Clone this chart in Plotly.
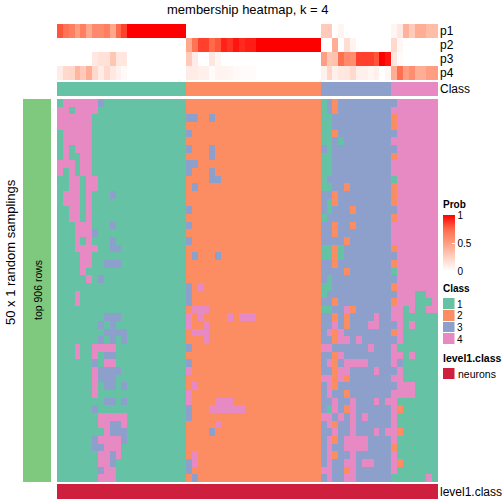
import plotly.graph_objects as go

W = H = 504
TITLE = "membership heatmap, k = 4"
TRACK_NAMES = ["p1", "p2", "p3", "p4"]
CLASS_NAMES = ["1", "2", "3", "4"]
CLASS_COLORS = ["#66C2A5", "#FC8D62", "#8DA0CB", "#E78AC3"]
SIDE_COLOR = "#7FC97F"
NEURON_COLOR = "#CE1F3E"

p1 = [.8,.7,.65,.5,.65,.45,.6,.6,.65,.45,.75,.85,1,1,1,1,1,1,1,1,1,1,
      0,0,0,0,0,0,0,0,0,0,0,0,0,0,0,0,0,0,0,0,0,0,0,
      .28,.28,0,.06,0,0,0,0,0,0,0,0,
      .05,.12,.4,.28,.42,.42,.35,.35]
p2 = [0,0,0,0,0,0,0,0,0,0,0,0,0,0,0,0,0,0,0,0,0,0,
      .45,.7,.85,.85,.75,.8,.92,.88,.95,.9,.93,.93,1,1,1,1,1,1,1,1,1,1,1,
      0,0,.42,0,.18,.06,0,0,0,0,0,0,
      .2,.04,0,0,0,0,0,0]
p3 = [0,0,0,0,0,0,.12,.16,.16,.3,.13,.13,0,0,0,0,0,0,0,0,0,0,
      .28,.1,0,0,.13,.05,0,0,0,0,0,0,0,0,0,0,0,0,0,0,0,0,0,
      .5,.3,.32,.72,.6,.58,.85,.85,.85,.8,1,.95,
      .13,.02,0,0,0,0,0,0]
p4 = [.1,.2,.22,.38,.28,.42,.2,.1,.2,.12,.07,.03,0,0,0,0,0,0,0,0,0,0,
      .1,.1,.08,.08,.02,.06,.06,.05,.03,.02,.02,.02,0,0,0,0,0,0,0,0,0,0,0,
      .07,.22,.08,.12,.13,.2,.08,.08,.05,.08,0,.05,
      .42,.72,.5,.58,.42,.42,.5,.5]
class_bar = "1111111111111111111111" + "22222222222222222222222" + "333333333333" + "44444444"

block1 = ["1444444311111111111111","4414444111111111111111","4444441111111111111111","4444441111111111111111",
"1444441111111111111111","1444441111111111111111","1414441111111111111111","1411441111111111111111",
"4441441111111111111111","4141441111111111111111","1144144111111111111111","1144144111111111111111",
"1444141113111111111111","1444141111111111111111","1144141111111111111111","1144141111111111111111",
"1114441113111111111111","1114443111111111111111","1114141113111111111111","1114444113311111111111",
"1111441111111111111111","1111441133311111111111","1111411111111111111111","1111141311111111111111",
"1111111111111111111111","1114111111111111111111","1114111111111111111111","1111111111111111111111",
"1111111133311111111111","1111111313111111111111","1111111133331111111111","1111111313131111111111",
"1114114444111111111111","1114114133111111111111","1111113144111111111111","1111114333311111111111",
"1111114333111111111111","1111114133131111111111","1111114111111111111111","1111111133131111111111",
"1111113111111111111111","1111111444441111111111","1111111443341111111111","1111111143331111111111",
"1111113444431111111111","1111113344411111111111","1111111443411111111111","1111111443111111111111",
"1111111344111111111111","1111111444111111111111"]
block2 = ["2","2","33223","2","3","2","32223","22223","33","32223","222233","23","2","2","3","2",
"3","2","3","2","232223","2","2","2","324","3","3","2444","424222242444","4224","2444","2224",
"3","2","3","4","2","24","4","42222444","3222444444","3","222224","22223","2","2","24","34","3","23"]
block3 = ["132333333333","132333333333","113333333333","113333333333","112333333333","113133333333",
"313333333333","113333333333","113333333333","113333333333","133333333333","113323333333",
"332333333333","312333333333","313332333333","133333333333","332332333333","332333333333",
"333323333333","112133333333","112133333333","332333333333","333323333333","313333333333",
"113333333333","133333333333","332333333333","113342333333","332323333433","334323334433",
"342433333333","332443433333","443333334333","332433333333","342344443333","332443333433",
"442423333333","342333333333","343323333333","334334333434","314324333333","443434343333",
"342334333333","334334333434","342344443333","343344443333","342334333333","343344344333",
"443324333333","343344333333"]
block4 = ["34444444","44444444","24444444","24444444","34444444","44444444","34444444","24444444",
"44444444","44444444","14444444","24444444","24444444","24444444","34444444","24444444",
"44444444","44444444","44444444","24444444","34444444","24444444","14444444","34444444",
"24444444","34441144","24441114","44141144","44111111","34141111","24111111","34111111",
"41111111","44141111","43111111","34111111","44111111","34441111","44441111","41111111",
"42111111","41111111","41111111","42111111","41111111","21111111","41111111","42111111",
"41111111","11111141"]

rows = [a + b.ljust(23, "2") + c + d for a, b, c, d in zip(block1, block2, block3, block4)]
main_z = [[int(ch) for ch in r] for r in rows]
class_z = [[int(ch) for ch in class_bar]]
n = len(class_bar)

step = []
for i, c in enumerate(CLASS_COLORS):
    step += [[i / 4, c], [(i + 1) / 4, c]]
reds = [[0, "#FFFFFF"], [.25, "#FFD0C1"], [.5, "#FF9E81"], [.75, "#FF6A4A"], [1, "#FF0000"]]

FONT = "Liberation Sans, Arial, sans-serif"
fig = go.Figure()
layout = {}
count = 0

def panel(trace_kw, left, right, top, bottom):
    global count
    count += 1
    s = "" if count == 1 else str(count)
    fig.add_trace(go.Heatmap(xaxis="x" + s, yaxis="y" + s, hoverinfo="skip", **trace_kw))
    layout["xaxis" + s] = dict(domain=[left / W, right / W], anchor="y" + s, visible=False, fixedrange=True)
    layout["yaxis" + s] = dict(domain=[1 - bottom / H, 1 - top / H], anchor="x" + s, visible=False,
                               autorange="reversed", fixedrange=True)

L, R = 57, 438
panel(dict(z=[p1, p2, p3, p4], colorscale=reds, zmin=0, zmax=1,
           colorbar=dict(x=443 / W, xanchor="left", y=1 - 215 / H, yanchor="top", len=56, lenmode="pixels",
                         thickness=12, thicknessmode="pixels", outlinewidth=0, xpad=0, ypad=0,
                         tickvals=[0, .5, 1], ticktext=["0", "0.5", "1"], ticks="inside", ticklen=3,
                         tickcolor="white", tickfont=dict(size=10, color="black", family=FONT))),
      L, R, 24, 80)
panel(dict(z=class_z, colorscale=step, zmin=.5, zmax=4.5, showscale=False), L, R, 82, 96)
panel(dict(z=main_z, colorscale=step, zmin=.5, zmax=4.5, showscale=False), L, R, 99, 482)
panel(dict(z=[[1]], colorscale=[[0, SIDE_COLOR], [1, SIDE_COLOR]], showscale=False), 23, 51, 99, 482)
panel(dict(z=[[1] * n], colorscale=[[0, NEURON_COLOR], [1, NEURON_COLOR]], showscale=False), L, R, 484, 499)
panel(dict(z=[[1], [2], [3], [4]], colorscale=step, zmin=.5, zmax=4.5, showscale=False, ygap=1), 443, 454.5, 298, 345)
panel(dict(z=[[1]], colorscale=[[0, NEURON_COLOR], [1, NEURON_COLOR]], showscale=False), 443, 454.5, 368, 379)

def text(t, x, y, size=12, bold=False, anchor="left", angle=0):
    fig.add_annotation(text=f"<b>{t}</b>" if bold else t, x=x / W, y=1 - y / H, xref="paper", yref="paper",
                       xanchor=anchor, yanchor="middle", showarrow=False, textangle=angle,
                       font=dict(size=size, color="black", family=FONT), borderpad=0, borderwidth=0)

text(TITLE, 248, 9, size=13, anchor="center")
for name, y in zip(TRACK_NAMES, [31, 45, 59, 73]):
    text(name, 440, y)
text("Class", 440, 89)
text("level1.class", 440, 492)
text("50 x 1 random samplings", 10, 252, size=13, anchor="center", angle=-90)
text("top 906 rows", 38, 290, size=10.5, anchor="center", angle=-90)
text("Prob", 443, 204, size=10, bold=True)
text("Class", 443, 288, size=10, bold=True)
for name, y in zip(CLASS_NAMES, [304, 315.5, 327, 339]):
    text(name, 457, y, size=10)
text("level1.class", 443, 358, size=10.5, bold=True)
text("neurons", 458, 374, size=10.5)

fig.update_layout(width=W, height=H, margin=dict(l=0, r=0, t=0, b=0), paper_bgcolor="white",
                  plot_bgcolor="white", showlegend=False, font=dict(family=FONT), **layout)
fig.write_html("out.html", config={"displayModeBar": False},
               post_script="document.body.style.margin='0';document.documentElement.style.overflow='hidden';")
